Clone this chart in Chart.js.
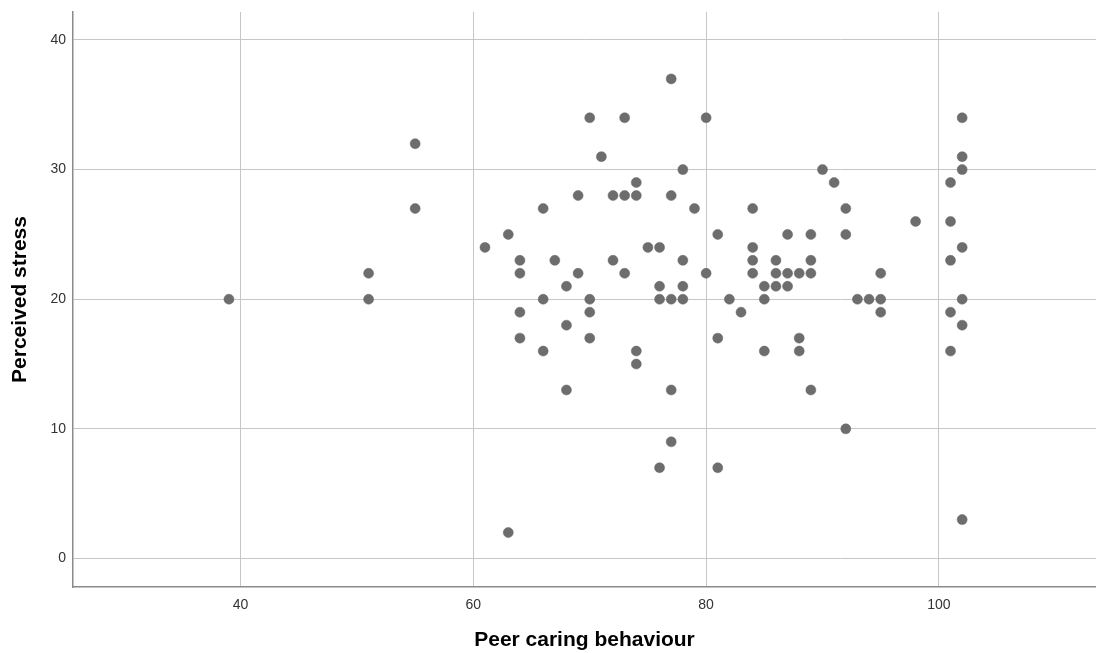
<!DOCTYPE html>
<html>
<head>
<meta charset="utf-8">
<script src="https://cdn.jsdelivr.net/npm/chart.js@4/dist/chart.umd.min.js"></script>
<style>
  html, body { margin: 0; padding: 0; background: #fff; overflow: hidden; }
  #wrap { width: 1096px; height: 653px; }
</style>
</head>
<body>
<div id="wrap"><canvas id="mainChart" width="1096" height="653"></canvas></div>
<script>
// values
const peerCaring = [
  39, 51, 51, 77, 70, 73, 80, 55, 71, 78, 74, 69, 72, 73, 74, 77, 55, 66, 79, 63, 81, 61, 75, 76,
  64, 67, 72, 78, 64, 69, 73, 80, 68, 76, 78, 66, 70, 76, 77, 78, 82, 64, 70, 83, 68,
  102, 102, 102, 90, 91, 101, 84, 92, 98, 101, 87, 89, 92, 84, 102, 84, 86, 89, 101,
  84, 86, 87, 88, 89, 95, 85, 86, 87, 85, 93, 94, 95, 102, 95, 101, 102,
  64, 70, 81, 66, 74, 74, 68, 77, 77, 76, 81, 63,
  88, 85, 88, 101, 89, 92, 102
];
const perceivedStress = [
  20, 22, 20, 37, 34, 34, 34, 32, 31, 30, 29, 28, 28, 28, 28, 28, 27, 27, 27, 25, 25, 24, 24, 24,
  23, 23, 23, 23, 22, 22, 22, 22, 21, 21, 21, 20, 20, 20, 20, 20, 20, 19, 19, 19, 18,
  34, 31, 30, 30, 29, 29, 27, 27, 26, 26, 25, 25, 25, 24, 24, 23, 23, 23, 23,
  22, 22, 22, 22, 22, 22, 21, 21, 21, 20, 20, 20, 20, 20, 19, 19, 18,
  17, 17, 17, 16, 16, 15, 13, 13, 9, 7, 7, 2,
  17, 16, 16, 16, 13, 10, 3
];
const xTicks = [40, 60, 80, 100];
const yTicks = [0, 10, 20, 30, 40];

const points = peerCaring.map((x, i) => ({ x: x, y: perceivedStress[i] }));

const gridColor = '#c6c6c6';
const axisColor = '#8a8a8a';
const font = 'Liberation Sans, Arial, sans-serif';

new Chart(document.getElementById('mainChart').getContext('2d'), {
  type: 'scatter',
  data: {
    datasets: [{
      data: points,
      pointRadius: 5,
      pointHoverRadius: 5,
      backgroundColor: '#6d6d6d',
      borderColor: '#666666',
      borderWidth: 0.5
    }]
  },
  options: {
    responsive: false,
    maintainAspectRatio: false,
    animation: false,
    devicePixelRatio: 1,
    layout: { autoPadding: false, padding: { top: 12, left: 0, right: 0, bottom: 0 } },
    plugins: { legend: { display: false }, tooltip: { enabled: false } },
    scales: {
      x: {
        type: 'linear',
        min: 25.6,
        max: 113.5,
        afterBuildTicks: axis => { axis.ticks = xTicks.map(v => ({ value: v })); },
        afterFit: axis => {
          axis.height = 66;
          axis.paddingLeft = 0;
          axis.paddingRight = 0;
        },
        grid: { color: gridColor, drawTicks: false },
        border: { color: axisColor, width: 1.5 },
        ticks: { padding: 10, color: '#333', font: { family: font, size: 14 } },
        title: {
          display: true,
          text: 'Peer caring behaviour',
          color: '#000',
          padding: { top: 0, bottom: 0 },
          font: { family: font, size: 21, weight: 'bold' }
        }
      },
      y: {
        type: 'linear',
        min: -2.2,
        max: 42.16,
        afterBuildTicks: axis => { axis.ticks = yTicks.map(v => ({ value: v })); },
        afterFit: axis => {
          axis.width = 73;
          axis.paddingTop = 0;
          axis.paddingBottom = 0;
        },
        grid: { color: gridColor, drawTicks: false },
        border: { color: axisColor, width: 1.5 },
        ticks: { padding: 7, color: '#333', font: { family: font, size: 14 } },
        title: {
          display: true,
          text: 'Perceived stress',
          color: '#000',
          padding: { top: 8, bottom: 0 },
          font: { family: font, size: 21, weight: 'bold' }
        }
      }
    }
  }
});
</script>
</body>
</html>
